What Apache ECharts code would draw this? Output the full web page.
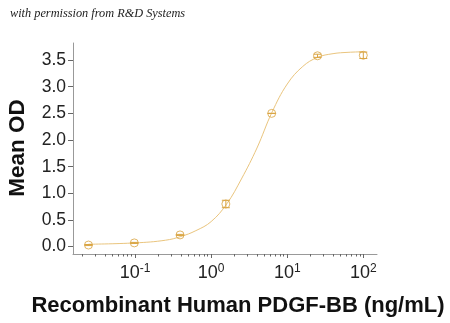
<!DOCTYPE html>
<html><head><meta charset="utf-8">
<script src="https://cdn.jsdelivr.net/npm/echarts@6/dist/echarts.min.js"></script>
<style>html,body{margin:0;padding:0;background:#fff}#c{width:450px;height:323px}</style>
</head><body><div id="c"></div>
<script>
// Measured points (concentration ng/mL, mean OD, error)
const conc = [0.0244, 0.0977, 0.39, 1.56, 6.25, 25, 100];
const meanOD = [0.03, 0.07, 0.22, 0.80, 2.50, 3.58, 3.59];
const errOD = [0.01, 0.01, 0.01, 0.07, 0.0, 0.03, 0.06];
// Fitted curve
const curveConc = [0.0244, 0.1, 0.25, 0.4, 0.63, 1, 1.6, 2.5, 4, 6.3, 10, 16, 25, 40, 63, 100];
const curveOD = [0.045, 0.07, 0.12, 0.19, 0.30, 0.47, 0.80, 1.27, 1.85, 2.52, 3.05, 3.38, 3.55, 3.62, 3.645, 3.655];
// Tick labels
const yTicks = [0, 0.5, 1.0, 1.5, 2.0, 2.5, 3.0, 3.5];
const xMajor = [0.1, 1, 10, 100];
const xMinor = [0.02,0.03,0.04,0.05,0.06,0.07,0.08,0.09,0.2,0.3,0.4,0.5,0.6,0.7,0.8,0.9,2,3,4,5,6,7,8,9,20,30,40,50,60,70,80,90];

const L = Math.log10;
const xMin = -1.816, xMax = 2.18, yMin = -0.138, yMax = 3.82;
const lineCol = '#EAC57E', markCol = '#D9A441', axisCol = '#999999', txt = '#222';

const chart = echarts.init(document.getElementById('c'), null, {renderer:'canvas'});
chart.setOption({
  animation: false,
  backgroundColor: '#fff',
  grid: {left: 73, right: 73, top: 43, bottom: 69},
  graphic: [
    {type:'text', left: 10, top: 8, style:{text:'with permission from R&D Systems', font:'italic 12.3px "Liberation Serif"', fill:'#222'}},
    {type:'text', x: 238, y: 306, style:{text:'Recombinant Human PDGF-BB (ng/mL)', font:'bold 22px "Liberation Sans"', fill:'#111', align:'center', verticalAlign:'middle'}},
    {type:'text', x: 18, y: 148, rotation: Math.PI/2, style:{text:'Mean OD', font:'bold 22.5px "Liberation Sans"', fill:'#111', align:'center', verticalAlign:'middle'}}
  ],
  xAxis: [
    {type:'value', min:xMin, max:xMax, position:'bottom',
     axisLine:{show:true, onZero:false, lineStyle:{color:axisCol, width:1}},
     axisTick:{show:true, length:4, customValues: xMajor.map(L), lineStyle:{color:'#666'}},
     axisLabel:{show:true, customValues: xMajor.map(L), margin:9,
       formatter: v => '{b|10}{s|' + Math.round(v) + '}',
       rich:{b:{fontSize:18, fontFamily:'Liberation Sans', color:txt}, s:{fontSize:12, fontFamily:'Liberation Sans', color:txt, padding:[0,0,9,0]}}},
     splitLine:{show:false}},
    {type:'value', min:xMin, max:xMax, position:'bottom',
     axisLine:{show:false, onZero:false},
     axisTick:{show:true, length:2.5, customValues: xMinor.map(L), lineStyle:{color:'#666'}},
     axisLabel:{show:false}, splitLine:{show:false}}
  ],
  yAxis: {type:'value', min:yMin, max:yMax,
    axisLine:{show:true, onZero:false, lineStyle:{color:axisCol, width:1}},
    axisTick:{show:true, length:5, customValues: yTicks, lineStyle:{color:'#666'}},
    axisLabel:{show:true, customValues: yTicks, margin:7, fontSize:17.5, fontFamily:'Liberation Sans', color:txt,
      formatter: v => v.toFixed(1)},
    splitLine:{show:false}},
  series: [
    {type:'line', xAxisIndex:0, data: curveConc.map((c,i)=>[L(c), curveOD[i]]), smooth:0.4,
     showSymbol:false, lineStyle:{color:lineCol, width:1}, z:2},
    {type:'scatter', xAxisIndex:0, data: conc.map((c,i)=>[L(c), meanOD[i]]), symbol:'circle', symbolSize:8,
     itemStyle:{color:'rgba(255,255,255,0)', borderColor:markCol, borderWidth:1}, z:4},
    {type:'custom', xAxisIndex:0, z:3,
     data: conc.map((c,i)=>[L(c), meanOD[i], errOD[i]]),
     renderItem: (params, api) => {
       const x = api.value(0), y = api.value(1), e = api.value(2);
       const hi = api.coord([x, y + e]), lo = api.coord([x, y - e]);
       const w = 4;
       const st = {stroke: markCol, lineWidth: 1};
       return {type:'group', children:[
         {type:'line', shape:{x1:hi[0], y1:hi[1], x2:lo[0], y2:lo[1]}, style:st},
         {type:'line', shape:{x1:hi[0]-w, y1:hi[1], x2:hi[0]+w, y2:hi[1]}, style:st},
         {type:'line', shape:{x1:lo[0]-w, y1:lo[1], x2:lo[0]+w, y2:lo[1]}, style:st}
       ]};
     }}
  ]
});
</script></body></html>
